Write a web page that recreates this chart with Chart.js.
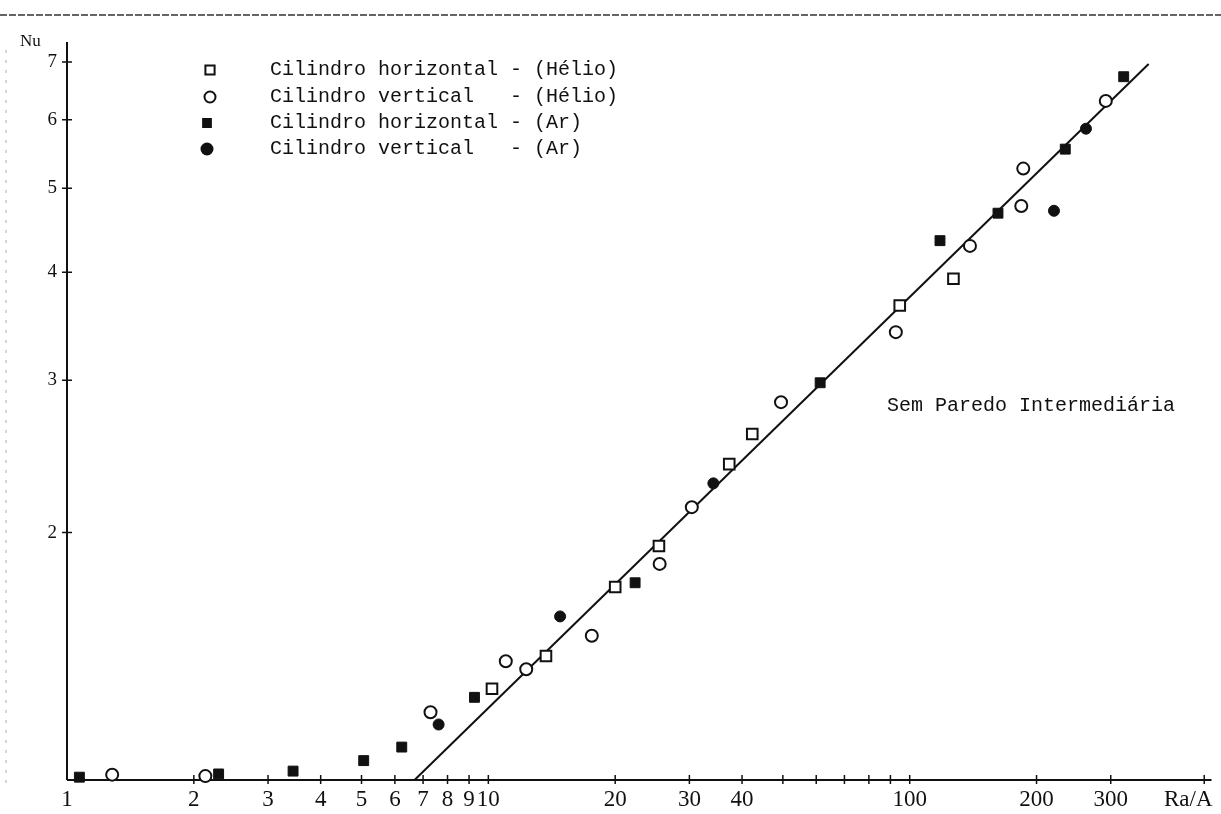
<!DOCTYPE html>
<html>
<head>
<meta charset="utf-8">
<script src="https://cdn.jsdelivr.net/npm/chart.js@4.4.1/dist/chart.umd.min.js"></script>
<style>
  html, body { margin: 0; padding: 0; background: #fff; }
  canvas { display: block; }
</style>
</head>
<body>
<canvas id="c" width="1221" height="814"></canvas>
<script>
// Nu versus Ra/A, log-log, four sets of measurements plus the fitted correlation line

const heHorizX  = [10.2, 13.7, 20.0, 25.4, 37.3, 42.3, 94.7, 127];
const heHorizNu = [1.32, 1.44, 1.73, 1.93, 2.40, 2.60, 3.66, 3.93];

const heVertX  = [1.28, 2.13, 7.29, 11.0, 12.3, 17.6, 25.5, 30.4, 49.5, 92.7, 139, 184, 186, 292];
const heVertNu = [1.05, 1.046, 1.24, 1.42, 1.39, 1.52, 1.84, 2.14, 2.83, 3.41, 4.29, 4.77, 5.27, 6.31];

const arHorizX  = [1.07, 2.29, 3.44, 5.06, 6.23, 9.27, 22.3, 61.3, 118, 162, 234, 322];
const arHorizNu = [1.043, 1.052, 1.06, 1.09, 1.13, 1.29, 1.75, 2.98, 4.35, 4.68, 5.55, 6.73];

const arVertX  = [7.62, 14.8, 34.2, 220, 262];
const arVertNu = [1.20, 1.60, 2.28, 4.71, 5.86];

const fitX  = [6.68, 369];
const fitNu = [1.035, 6.96];

const seriesLabels = [
  'Cilindro horizontal - (Hélio)',
  'Cilindro vertical   - (Hélio)',
  'Cilindro horizontal - (Ar)',
  'Cilindro vertical   - (Ar)'
];

const xTickValues = [2, 3, 4, 5, 6, 7, 8, 9, 10, 20, 30, 40, 50, 60, 70, 80, 90, 100, 200, 300, 500];
const xLabelValues = [1, 2, 3, 4, 5, 6, 7, 8, 9, 10, 20, 30, 40, 100, 200, 300];
const yTickValues = [2, 3, 4, 5, 6, 7];

const xAxisTitle = 'Ra/A';
const yAxisTitle = 'Nu';
const noteText = 'Sem Paredo Intermediária';

const INK = '#111';

function pts(xs, ys) { return xs.map((v, i) => ({ x: v, y: ys[i] })); }

const markerSets = [
  { data: pts(heHorizX, heHorizNu), pointStyle: 'rect',   pointRadius: 7.5, pointBackgroundColor: '#fff', pointBorderWidth: 2 },
  { data: pts(heVertX,  heVertNu),  pointStyle: 'circle', pointRadius: 6,   pointBackgroundColor: '#fff', pointBorderWidth: 2 },
  { data: pts(arHorizX, arHorizNu), pointStyle: 'rect',   pointRadius: 7,   pointBackgroundColor: INK,    pointBorderWidth: 1 },
  { data: pts(arVertX,  arVertNu),  pointStyle: 'circle', pointRadius: 5.5, pointBackgroundColor: INK,    pointBorderWidth: 1 }
];

const datasets = markerSets.map((s, i) => Object.assign({
  type: 'scatter',
  label: seriesLabels[i],
  pointBorderColor: INK,
  showLine: false,
  clip: false,
  order: 1
}, s));

datasets.push({
  type: 'line',
  label: 'ajuste',
  data: pts(fitX, fitNu),
  borderColor: INK,
  borderWidth: 2,
  pointRadius: 0,
  fill: false,
  tension: 0,
  clip: false,
  order: 2
});

const paperPlugin = {
  id: 'paper',
  beforeDraw(chart) {
    const ctx = chart.ctx;
    ctx.save();
    ctx.fillStyle = '#fff';
    ctx.fillRect(0, 0, chart.width, chart.height);
    // page edge lines
    ctx.strokeStyle = '#333';
    ctx.lineWidth = 1.5;
    ctx.setLineDash([7, 2]);
    ctx.beginPath(); ctx.moveTo(0, 15); ctx.lineTo(chart.width, 15); ctx.stroke();
    ctx.strokeStyle = '#aaa';
    ctx.lineWidth = 1;
    ctx.setLineDash([3, 7]);
    ctx.beginPath(); ctx.moveTo(6, 50); ctx.lineTo(6, 785); ctx.stroke();
    ctx.restore();
  },
  beforeDatasetsDraw(chart) {
    const { ctx, chartArea: a, scales: { x, y } } = chart;
    ctx.save();
    ctx.strokeStyle = INK;
    ctx.lineWidth = 2;
    ctx.beginPath();
    ctx.moveTo(a.left, a.bottom); ctx.lineTo(a.right, a.bottom);
    ctx.moveTo(a.left, a.bottom); ctx.lineTo(a.left, a.top + 2);
    ctx.stroke();
    ctx.lineWidth = 1.5;
    ctx.beginPath();
    xTickValues.forEach(v => {
      const px = x.getPixelForValue(v);
      ctx.moveTo(px, a.bottom - 5); ctx.lineTo(px, a.bottom + 4);
    });
    yTickValues.forEach(v => {
      const py = y.getPixelForValue(v);
      ctx.moveTo(a.left - 5, py); ctx.lineTo(a.left + 5, py);
    });
    ctx.stroke();

    // tick labels
    ctx.fillStyle = INK;
    ctx.font = '23px "Liberation Serif", serif';
    ctx.textAlign = 'center';
    ctx.textBaseline = 'alphabetic';
    xLabelValues.forEach(v => {
      ctx.fillText(String(v), x.getPixelForValue(v), 806);
    });
    ctx.textAlign = 'left';
    ctx.fillText(xAxisTitle, 1164, 806);

    ctx.font = '19px "Liberation Serif", serif';
    ctx.textAlign = 'right';
    ctx.textBaseline = 'middle';
    yTickValues.forEach(v => {
      ctx.fillText(String(v), a.left - 10, y.getPixelForValue(v));
    });
    ctx.font = '17px "Liberation Serif", serif';
    ctx.textAlign = 'left';
    ctx.textBaseline = 'alphabetic';
    ctx.fillText(yAxisTitle, 20, 46);
    ctx.restore();
  },
  afterDraw(chart) {
    const ctx = chart.ctx;
    ctx.save();
    ctx.fillStyle = INK;
    ctx.font = '20px "Liberation Mono", monospace';
    ctx.textBaseline = 'alphabetic';
    ctx.textAlign = 'left';
    const rows = [75, 102, 128, 154];
    const markX = [210, 210, 207, 207];
    const markR = [6.5, 5.5, 5.5, 5.5];
    chart.data.datasets.slice(0, 4).forEach((ds, i) => {
      ctx.fillStyle = ds.pointBackgroundColor;
      ctx.strokeStyle = ds.pointBorderColor;
      Chart.helpers.drawPoint(ctx, {
        pointStyle: ds.pointStyle,
        radius: markR[i],
        rotation: 0,
        borderWidth: ds.pointBorderWidth
      }, markX[i], rows[i] - 5);
      ctx.fillStyle = INK;
      ctx.fillText(ds.label, 270, rows[i]);
    });
    ctx.font = '20px "Liberation Mono", monospace';
    ctx.fillText(noteText, 887, 411);
    ctx.restore();
  }
};

new Chart(document.getElementById('c'), {
  type: 'scatter',
  data: { datasets },
  options: {
    responsive: false,
    animation: false,
    devicePixelRatio: 1,
    layout: { padding: { left: 67, right: 5, top: 40, bottom: 34 } },
    plugins: { legend: { display: false }, tooltip: { enabled: false } },
    scales: {
      x: { type: 'logarithmic', min: 1, max: 520.3, bounds: 'data', display: false },
      y: { type: 'logarithmic', min: 1.0352, max: 7.4208, bounds: 'data', display: false }
    }
  },
  plugins: [paperPlugin]
});
</script>
</body>
</html>
